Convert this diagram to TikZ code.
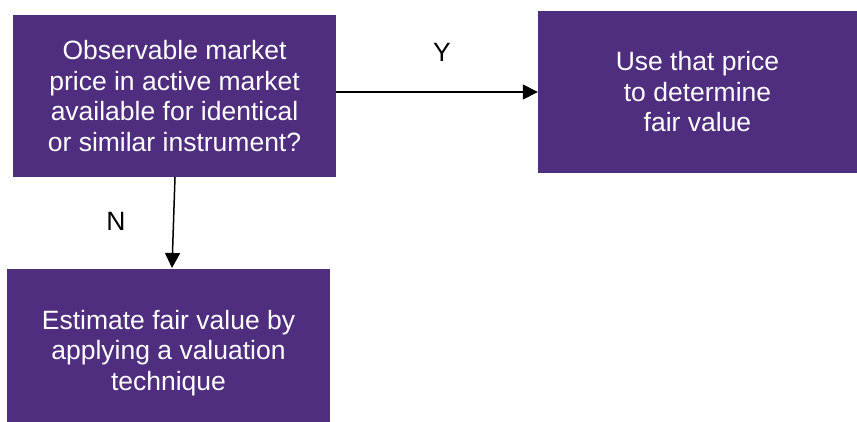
\documentclass[tikz,border=0pt]{standalone}
\usepackage{fontspec}
\setmainfont{Liberation Sans}
\usetikzlibrary{arrows.meta}
\definecolor{gtpurple}{RGB}{79,45,127}
\begin{document}
\begin{tikzpicture}[x=1pt,y=-1pt,
  pbox/.style={fill=gtpurple,draw=none,text=white,align=center,inner sep=0pt,
    font=\fontsize{26.5}{30.5}\selectfont},
  conn/.style={line width=1.5pt,-{Triangle[length=15pt,width=15pt]}},
  lbl/.style={font=\fontsize{26.5}{30}\selectfont}]
\useasboundingbox (0,0) rectangle (857,421);
\node[pbox,minimum width=323pt,minimum height=162pt] (a) at (174.5,96)
  {Observable market\\price in active market\\available for identical\\or similar instrument?};
\node[pbox,minimum width=319pt,minimum height=162pt] (b) at (697.5,92)
  {Use that price\\to determine\\fair value};
\node[pbox,minimum width=323pt,minimum height=168pt] (c) at (168.5,353)
  {Estimate fair value by\\applying a valuation\\technique};
\draw[conn] (a.east |- 0,92) -- (b.west |- 0,92);
\coordinate (atop) at (175,177);
\coordinate (cend) at (172,268);
\draw[conn] (atop) -- (cend);
\node[lbl] (y) at (442,52) {Y};
\node[lbl] (n) at (116,221) {N};
\end{tikzpicture}
\end{document}
